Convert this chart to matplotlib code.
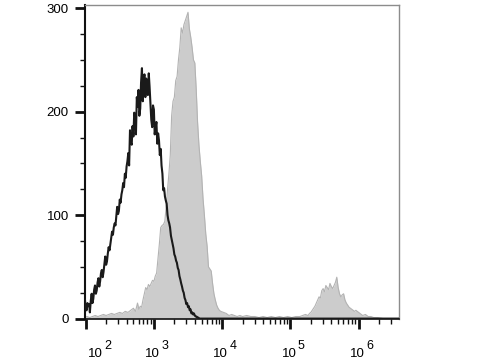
import matplotlib
matplotlib.use("Agg")
import matplotlib.pyplot as plt
from matplotlib.ticker import FixedLocator, MultipleLocator, NullFormatter
import numpy as np

plt.rcParams['font.family'] = ['Liberation Sans', 'DejaVu Sans']

# control (black line): log10 of fluorescence channel, event count
ctrl_logx = [1.990, 2.002, 2.015, 2.027, 2.040, 2.052, 2.062, 2.075, 2.088, 2.100,
             2.112, 2.125, 2.137, 2.150, 2.162, 2.175, 2.187, 2.200, 2.212, 2.225,
             2.237, 2.250, 2.262, 2.275, 2.287, 2.300, 2.312, 2.325, 2.337, 2.350,
             2.362, 2.375, 2.387, 2.400, 2.412, 2.425, 2.437, 2.450, 2.462, 2.475,
             2.487, 2.500, 2.512, 2.525, 2.537, 2.550, 2.562, 2.575, 2.587, 2.600,
             2.612, 2.625, 2.637, 2.650, 2.662, 2.675, 2.687, 2.700, 2.712, 2.725,
             2.737, 2.750, 2.762, 2.775, 2.787, 2.800, 2.812, 2.825, 2.837, 2.850,
             2.862, 2.875, 2.887, 2.900, 2.912, 2.925, 2.937, 2.950, 2.962, 2.975,
             2.987, 3.000, 3.012, 3.025, 3.037, 3.050, 3.062, 3.075, 3.087, 3.100,
             3.112, 3.125, 3.137, 3.150, 3.162, 3.175, 3.187, 3.200, 3.212, 3.225,
             3.237, 3.250, 3.262, 3.275, 3.287, 3.300, 3.312, 3.325, 3.337, 3.350,
             3.362, 3.375, 3.387, 3.400, 3.412, 3.425, 3.437, 3.450, 3.462, 3.475,
             3.487, 3.500, 3.512, 3.525, 3.537, 3.550, 3.562, 3.575, 3.587, 3.600,
             3.612, 3.625, 3.637, 3.650, 3.670, 6.590]
ctrl_count = [18, 10, 8, 15, 12, 14, 6, 17, 24, 15,
              19, 28, 32, 24, 27, 35, 39, 31, 36, 44,
              47, 40, 45, 53, 60, 52, 55, 63, 69, 66,
              72, 79, 84, 81, 88, 92, 90, 100, 108, 101,
              104, 115, 112, 120, 124, 131, 127, 140, 136, 147,
              152, 160, 148, 182, 170, 168, 186, 176, 199, 195,
              178, 214, 205, 221, 196, 203, 228, 242, 210, 231,
              236, 214, 232, 227, 216, 237, 224, 208, 192, 185,
              206, 202, 178, 185, 190, 169, 179, 172, 158, 164,
              148, 140, 124, 126, 118, 114, 111, 100, 95, 92,
              88, 80, 76, 72, 68, 62, 60, 56, 54, 49,
              47, 41, 38, 34, 31, 27, 25, 20, 18, 14,
              15, 11, 12, 8, 9, 5, 6, 4, 5, 3,
              2, 2, 1, 1, 0, 0]

# stained sample (grey filled)
stain_logx = [1.99, 2.02, 2.06, 2.10, 2.14, 2.18, 2.22, 2.26, 2.30, 2.34, 2.38, 2.42,
              2.46, 2.50, 2.54, 2.58, 2.62, 2.66, 2.70, 2.73, 2.76, 2.78, 2.80, 2.82,
              2.84, 2.86, 2.88, 2.90, 2.92, 2.94, 2.96, 2.98, 3.00, 3.02, 3.04, 3.06,
              3.08, 3.10, 3.12, 3.14, 3.16, 3.18, 3.20, 3.22, 3.24, 3.26, 3.28, 3.30,
              3.32, 3.34, 3.36, 3.38, 3.40, 3.42, 3.44, 3.46, 3.48, 3.50, 3.52, 3.54,
              3.56, 3.58, 3.60, 3.62, 3.64, 3.66, 3.68, 3.70, 3.72, 3.74, 3.76, 3.78,
              3.80, 3.82, 3.84, 3.86, 3.88, 3.90, 3.92, 3.94, 3.96, 3.98, 4.02, 4.06,
              4.10, 4.14, 4.18, 4.22, 4.26, 4.30, 4.36, 4.42, 4.48, 4.54, 4.60, 4.66,
              4.72, 4.78, 4.84, 4.90, 4.96, 5.02, 5.08, 5.14, 5.18, 5.22, 5.26, 5.28,
              5.30, 5.32, 5.34, 5.36, 5.38, 5.40, 5.42, 5.44, 5.46, 5.48, 5.50, 5.52,
              5.54, 5.56, 5.58, 5.60, 5.62, 5.64, 5.66, 5.68, 5.70, 5.72, 5.74, 5.76,
              5.78, 5.80, 5.82, 5.84, 5.86, 5.88, 5.90, 5.92, 5.94, 5.96, 5.98, 6.02,
              6.06, 6.10, 6.14, 6.18, 6.22, 6.28, 6.36, 6.59]
stain_count = [1, 2, 1, 2, 3, 2, 3, 4, 3, 4, 5, 4,
               5, 6, 5, 7, 6, 8, 10, 7, 15, 9, 12, 11,
               18, 24, 30, 28, 33, 31, 34, 37, 36, 41, 44, 58,
               72, 88, 90, 91, 94, 108, 125, 140, 158, 196, 210, 214,
               230, 234, 250, 262, 281, 276, 284, 288, 292, 296, 280, 272,
               262, 250, 247, 222, 190, 168, 152, 138, 116, 100, 82, 70,
               50, 48, 46, 34, 24, 18, 13, 10, 8, 7, 6, 5,
               3, 4, 3, 2, 3, 2, 3, 2, 2, 1, 2, 1,
               2, 1, 2, 1, 2, 1, 2, 2, 3, 4, 3, 5,
               6, 8, 10, 12, 15, 18, 21, 20, 27, 29, 26, 32,
               30, 28, 34, 31, 29, 32, 35, 40, 30, 24, 21, 23,
               24, 18, 15, 13, 11, 10, 9, 8, 7, 8, 7, 5,
               3, 4, 2, 2, 1, 1, 0, 0]

decades = [2, 3, 4, 5, 6]
y_major = [0, 100, 200, 300]

fig = plt.figure(figsize=(4.8, 3.6), dpi=100)
ax = fig.add_axes([0.177, 0.115, 0.654, 0.871])

sx = 10 ** np.array(stain_logx)
ax.fill_between(sx, stain_count, 0, color='#cccccc', lw=0, zorder=1)
ax.plot(sx, stain_count, color='#b3b3b3', lw=0.8, zorder=2)
ax.plot(10 ** np.array(ctrl_logx), ctrl_count, color='#1a1a1a', lw=1.5, zorder=3)

ax.set_xscale('log')
ax.set_xlim(10 ** 1.99, 10 ** 6.59)
ax.set_ylim(0, 303)

ax.yaxis.set_major_locator(FixedLocator(y_major))
ax.yaxis.set_minor_locator(MultipleLocator(25))
ax.xaxis.set_major_locator(FixedLocator([10 ** d for d in decades]))
ax.xaxis.set_major_formatter(NullFormatter())
ax.xaxis.set_minor_formatter(NullFormatter())

ax.tick_params(axis='both', which='major', direction='out', length=7.2, width=2,
               color='#111111', labelsize=9.5, pad=4.5)
ax.tick_params(axis='both', which='minor', direction='out', length=3.3, width=1,
               color='#111111')

for side in ['top', 'right']:
    ax.spines[side].set_color('#8c8c8c')
    ax.spines[side].set_linewidth(1)
ax.spines['left'].set_linewidth(1.5)
ax.spines['bottom'].set_linewidth(1.2)
ax.spines['left'].set_color('#111111')
ax.spines['bottom'].set_color('#111111')

# decade labels, drawn as "10" plus raised exponent
for i, d in enumerate(decades):
    dx = 17 if i == 0 else 6
    ax.annotate('10', xy=(10 ** d, 0), xycoords=('data', 'axes fraction'),
                xytext=(dx, -38), textcoords='offset pixels',
                ha='right', va='baseline', fontsize=9.5, annotation_clip=False)
    ax.annotate(str(d), xy=(10 ** d, 0), xycoords=('data', 'axes fraction'),
                xytext=(dx + 1.5, -30), textcoords='offset pixels',
                ha='left', va='baseline', fontsize=9, annotation_clip=False)

fig.savefig('out.png', dpi=100)
